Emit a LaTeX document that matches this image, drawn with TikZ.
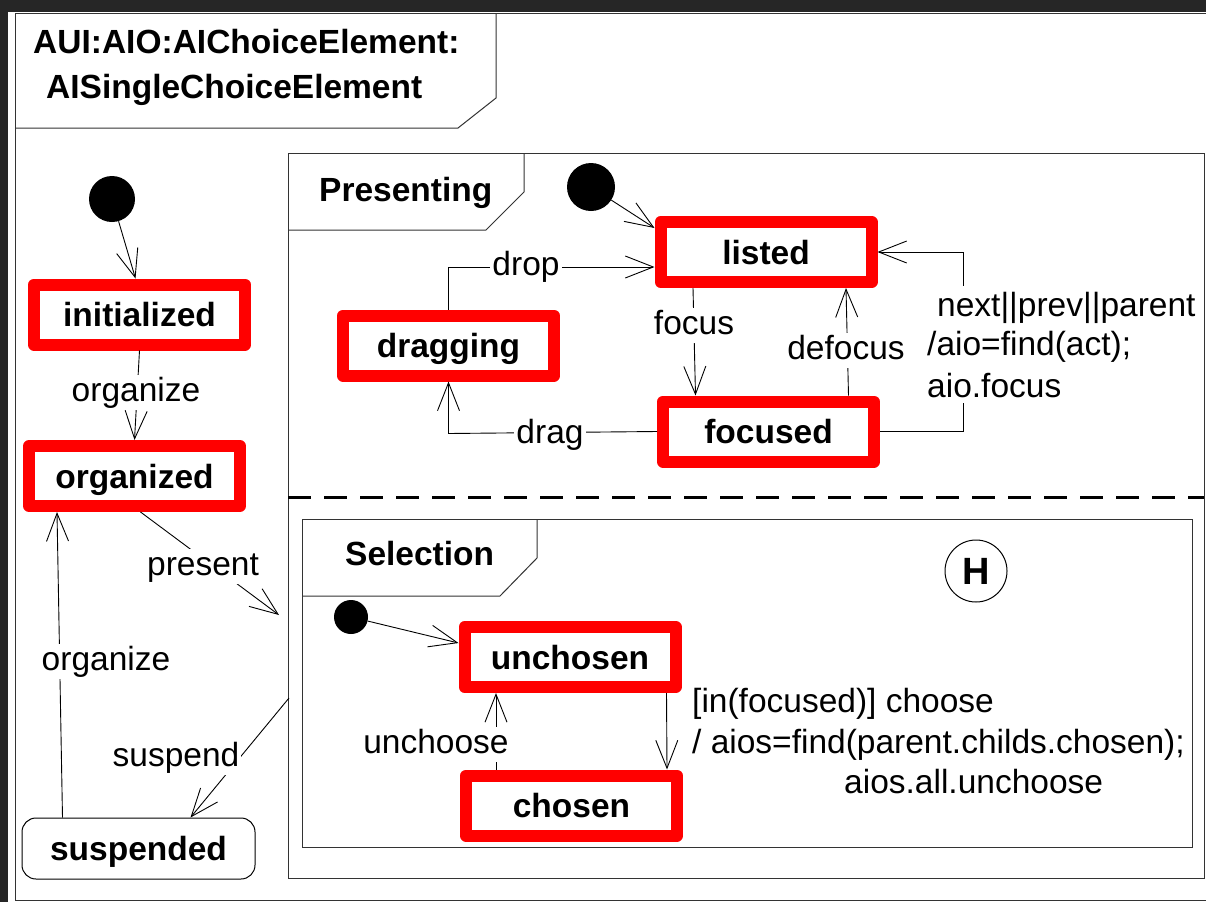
\documentclass[tikz,border=0pt]{standalone}
\usepackage{fontspec}
\setmainfont{Liberation Sans}
\usetikzlibrary{arrows.meta,calc}
\newcommand{\fsz}{\fontsize{33.5}{40}\selectfont}
\begin{document}
\begin{tikzpicture}[x=1pt,y=-1pt,
  state/.style={draw=red, line width=12pt, line join=round, fill=white, minimum width=211pt, minimum height=60pt, inner sep=0pt, font=\fsz\bfseries, text height=24pt, text depth=0pt},
  susp/.style={draw=black, line width=1pt, rounded corners=14pt, fill=white, minimum width=233pt, minimum height=61pt, inner sep=0pt, font=\fsz\bfseries, text height=24pt, text depth=0pt},
  dot/.style={circle, fill=black, inner sep=0pt},
  lbl/.style={fill=white, inner sep=2pt, font=\fsz, text height=24pt, text depth=7pt},
  txt/.style={inner sep=0pt, font=\fsz, anchor=base west},
  ttl/.style={inner sep=0pt, font=\fsz\bfseries, anchor=base west},
  conn/.style={line width=0.9pt, -{Straight Barb[length=28pt, width=22pt, line width=0.9pt]}},
  frame/.style={draw=black!80, line width=1pt}]
\useasboundingbox (0,0) rectangle (1206,902);
% background
\fill[black!85] (0,0) rectangle (1206,902);
\fill[white] (8,12) rectangle (1206,902);
% outer frame and title tab
\draw[frame] (1206,13) -- (15,13) -- (15,900) -- (1206,900);
\draw[frame] (15,128) -- (458,128) -- (496,98) -- (496,13);
\node[ttl] (t1) at (33,53) {AUI:AIO:AIChoiceElement:};
\node[ttl] (t2) at (46,98) {AISingleChoiceElement};
% Presenting frame
\draw[frame] (288,153) rectangle (1204,878);
\draw[frame] (288,230) -- (486,230) -- (524,192) -- (524,153);
\node[ttl] (tp) at (319,201) {Presenting};
\draw[line width=3pt, dash pattern=on 23pt off 13pt] (288,497) -- (1204,497);
% Selection frame
\draw[frame] (302,519) rectangle (1192,847);
\draw[frame] (302,596) -- (500,596) -- (537,558) -- (537,519);
\node[ttl] (ts) at (345,565) {Selection};
\node[draw, circle, line width=1pt, minimum size=62pt, inner sep=0pt, font=\fontsize{38}{44}\selectfont\bfseries] (hist) at (976,571) {H};
% coordinates on the composite state border
\coordinate (presIn) at (279,615);
\coordinate (presOut) at (289,698);
\coordinate (nxt) at (963,431.5);
% top-level states
\node[dot, minimum size=46pt] (i0) at (112,199) {};
\node[state] (initialized) at (139.5,314.5) {initialized};
\node[state] (organized) at (134.5,476) {organized};
\node[susp] (suspended) at (138.5,848.5) {suspended};
% Presenting states
\node[dot, minimum size=48pt] (p0) at (591,187) {};
\node[state] (listed) at (766,252) {listed};
\node[state] (dragging) at (448.5,345.5) {dragging};
\node[state] (focused) at (768.5,431.5) {focused};
% Selection states
\node[dot, minimum size=34pt] (s0) at (351,617) {};
\node[state] (unchosen) at (570,657) {unchosen};
\node[state] (chosen) at (571.5,805.5) {chosen};
% connectors top level
\draw[conn] (i0) -- ($(initialized.north)+(-4,0)$);
\draw[conn] (initialized.south) -- (organized.north);
\draw[conn] ($(organized.south)+(6,0)$) -- (presIn);
\draw[conn] (presOut) -- ($(suspended.north)+(52,0)$);
\draw[conn] ($(suspended.north west)+(41,0)$) -- ($(organized.south west)+(34,0)$);
% connectors Presenting
\draw[conn] (p0) -- ($(listed.north west)+(0,12)$);
\draw[conn] (dragging.north) |- ($(listed.west)+(0,15)$);
\draw[conn] (focused.west) -- ($(dragging.south)+(0,52)$) -- (dragging.south);
\draw[conn] ($(listed.south)+(-73,0)$) -- ($(focused.north)+(-73,0)$);
\draw[conn] ($(focused.north)+(80,0)$) -- ($(listed.south)+(80,0)$);
\draw[conn] (focused.east) -- (nxt) |- (listed.east);
% connectors Selection
\draw[conn] (s0) -- ($(unchosen.west)+(0,-14)$);
\draw[conn] ($(unchosen.south east)+(-15,0)$) -- ($(chosen.north east)+(-16,0)$);
\draw[conn] ($(chosen.north)+(-75.5,0)$) -- ($(unchosen.south)+(-74,0)$);
% labels
\node[lbl] (l1) at (136,392.5) {organize};
\node[lbl] (l2) at (203,566.5) {present};
\node[lbl] (l3) at (106,661.5) {organize};
\node[lbl] (l4) at (176,757.5) {suspend};
\node[lbl] (l5) at (526,266.5) {drop};
\node[lbl] (l6) at (694,325.5) {focus};
\node[lbl] (l7) at (846,350.5) {defocus};
\node[lbl] (l8) at (550,434.5) {drag};
\node[lbl] (l9) at (436,744.5) {unchoose};
\node[txt, fill=white, inner ysep=6pt] (n1) at (937,316) {next||prev||parent};
\node[txt, fill=white, inner ysep=6pt] (n2) at (927,355) {/aio=find(act);};
\node[txt, fill=white, inner ysep=6pt] (n3) at (927,397) {aio.focus};
\node[txt] (c1) at (692,712) {[in(focused)] choose};
\node[txt] (c2) at (692,753) {/ aios=find(parent.childs.chosen);};
\node[txt] (c3) at (844,793) {aios.all.unchoose};
\end{tikzpicture}
\end{document}
